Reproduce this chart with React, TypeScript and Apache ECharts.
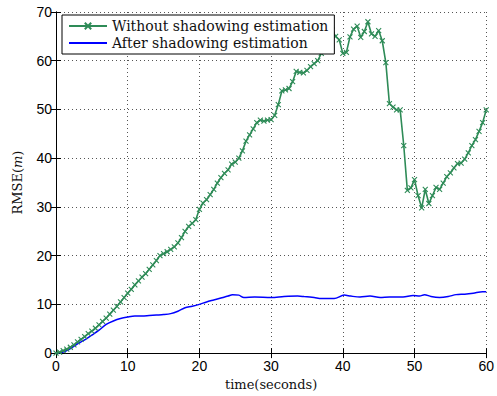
import React, { useEffect, useRef } from "react";
import * as echarts from "echarts";

const seriesNames = ["Without shadowing estimation", "After shadowing estimation"];

// Without shadowing estimation: one value every 0.5 s from 0 to 60 s
const greenTimes: number[] = Array.from({ length: 121 }, (_, i) => i * 0.5);
const greenValues: number[] = [
  0, 0.2, 0.5, 0.8, 1.2, 1.7, 2.3, 2.8, 3.4, 4.0,
  4.5, 5.1, 5.8, 6.5, 7.2, 8.0, 8.8, 9.6, 10.5, 11.4,
  12.3, 13.1, 14.0, 14.8, 15.6, 16.3, 17.2, 18.1, 19.0, 20.0,
  20.4, 20.8, 21.3, 21.8, 22.6, 23.7, 25.0, 26.0, 26.6, 27.4,
  29.5, 30.8, 31.5, 32.5, 33.6, 34.9, 36.0, 36.9, 37.6, 38.8,
  39.2, 40.0, 41.5, 43.5, 44.8, 46.0, 47.3, 47.8, 47.6, 47.8,
  47.9, 48.8, 51.0, 53.8, 54.0, 54.3, 55.7, 57.8, 57.6, 57.5,
  58.0, 58.8, 59.4, 60.0, 61.5, 63.5, 65.5, 66.3, 65.0, 64.3,
  61.5, 61.7, 64.9, 66.5, 67.1, 64.8, 66.0, 68.0, 65.5, 65.0,
  66.2, 64.1, 59.6, 51.2, 50.5, 49.9, 49.9, 42.6, 33.4, 33.9,
  35.6, 32.3, 29.8, 33.6, 30.7, 32.3, 34.0, 33.6, 34.9, 36.2,
  37.0, 38.0, 38.9, 39.0, 39.8, 41.1, 42.6, 43.8, 45.5, 47.3,
  49.9,
];

// After shadowing estimation
const blueTimes: number[] = [
  0, 0.5, 1, 1.5, 2, 3, 4, 5, 6, 7, 8, 9, 10, 11, 12, 13, 14, 15, 16, 17,
  18, 19, 20, 21, 22, 23, 24, 24.6, 25.5, 26.2, 27.7, 30, 31.8, 33.7, 34.6,
  36, 37, 38.8, 40.2, 41.1, 42.4, 43.8, 45.2, 46.5, 48.4, 49.8, 50.7, 51.4,
  52.3, 53.5, 54.7, 55.8, 57, 58.2, 59.5, 60,
];
const blueValues: number[] = [
  0, 0.05, 0.2, 0.5, 0.9, 1.9, 2.7, 3.7, 4.7, 5.9, 6.6, 7.1, 7.4, 7.6, 7.6,
  7.7, 7.8, 7.9, 8.1, 8.6, 9.3, 9.6, 10.0, 10.5, 10.9, 11.3, 11.7, 12.0, 11.9,
  11.4, 11.5, 11.4, 11.6, 11.7, 11.6, 11.4, 11.2, 11.2, 11.9, 11.7, 11.5, 11.7,
  11.4, 11.5, 11.5, 11.8, 11.7, 12.0, 11.6, 11.4, 11.6, 12.0, 12.1, 12.3,
  12.6, 12.6,
];

const xTicks = { min: 0, max: 60, interval: 10 };
const yTicks = { min: 0, max: 70, interval: 10 };

const GREEN = "#2e8b57";
const BLUE = "#0000ff";
const SERIF = "'DejaVu Serif', 'Liberation Serif', serif";
const SANS = "'Liberation Sans', Arial, sans-serif";

const xMark = "path://M0,0L10,10M10,0L0,10";
const noMark = "path://M0,0L10,10";

export default function App() {
  const ref = useRef<HTMLDivElement>(null);
  useEffect(() => {
    if (!ref.current) return;
    const chart = echarts.init(ref.current, null, { renderer: "svg" });
    const gridLine = {
      show: true,
      lineStyle: { color: "#555", type: [1, 3] as any, width: 1 },
    };
    const axisLine = { show: true, lineStyle: { color: "#000", width: 1 } };
    const tick = { show: true, inside: true, length: 5, lineStyle: { color: "#000" } };
    chart.setOption({
      animation: false,
      backgroundColor: "#fff",
      grid: { left: 56, right: 7, top: 12, bottom: 42, containLabel: false },
      legend: {
        orient: "vertical",
        left: 62,
        top: 15,
        padding: [4, 6, 4, 6],
        itemGap: 3,
        itemWidth: 38,
        itemHeight: 8,
        borderColor: "#000",
        borderWidth: 1,
        backgroundColor: "#fff",
        textStyle: { fontFamily: SERIF, fontSize: 14, color: "#111" },
        data: seriesNames,
      },
      xAxis: [
        {
          type: "value",
          ...xTicks,
          position: "bottom",
          name: "time(seconds)",
          nameLocation: "middle",
          nameGap: 23,
          nameTextStyle: { fontFamily: SERIF, fontSize: 13, color: "#111" },
          axisLine,
          axisTick: tick,
          axisLabel: { fontFamily: SANS, fontSize: 14, color: "#000", margin: 6 },
          splitLine: gridLine,
        },
        {
          type: "value",
          ...xTicks,
          position: "top",
          axisLine,
          axisTick: tick,
          axisLabel: { show: false },
          splitLine: { show: false },
        },
      ],
      yAxis: [
        {
          type: "value",
          ...yTicks,
          position: "left",
          name: "{a|RMSE(}{b|m}{a|)}",
          nameLocation: "middle",
          nameGap: 32,
          nameTextStyle: {
            rich: {
              a: { fontFamily: SERIF, fontSize: 13, color: "#111" },
              b: { fontFamily: SERIF, fontSize: 13, fontStyle: "italic", color: "#111" },
            },
          },
          axisLine,
          axisTick: tick,
          axisLabel: { fontFamily: SANS, fontSize: 14, color: "#000", margin: 4 },
          splitLine: gridLine,
        },
        {
          type: "value",
          ...yTicks,
          position: "right",
          axisLine,
          axisTick: tick,
          axisLabel: { show: false },
          splitLine: { show: false },
        },
      ],
      series: [
        {
          name: seriesNames[0],
          type: "line",
          data: greenTimes.map((t, i) => [t, greenValues[i]]),
          symbol: xMark,
          symbolSize: 5,
          showAllSymbol: true,
          lineStyle: { color: GREEN, width: 1.6 },
          itemStyle: { color: GREEN, borderColor: GREEN, borderWidth: 1.1 },
          z: 3,
        },
        {
          name: seriesNames[1],
          type: "line",
          data: blueTimes.map((t, i) => [t, blueValues[i]]),
          symbol: noMark,
          showSymbol: false,
          smooth: 0.3,
          lineStyle: { color: BLUE, width: 1.5 },
          itemStyle: { color: BLUE, borderWidth: 0 },
          z: 2,
        },
      ],
    });
    return () => chart.dispose();
  }, []);
  return <div ref={ref} style={{ width: 497, height: 396, position: "absolute", left: 0, top: 0 }} />;
}
